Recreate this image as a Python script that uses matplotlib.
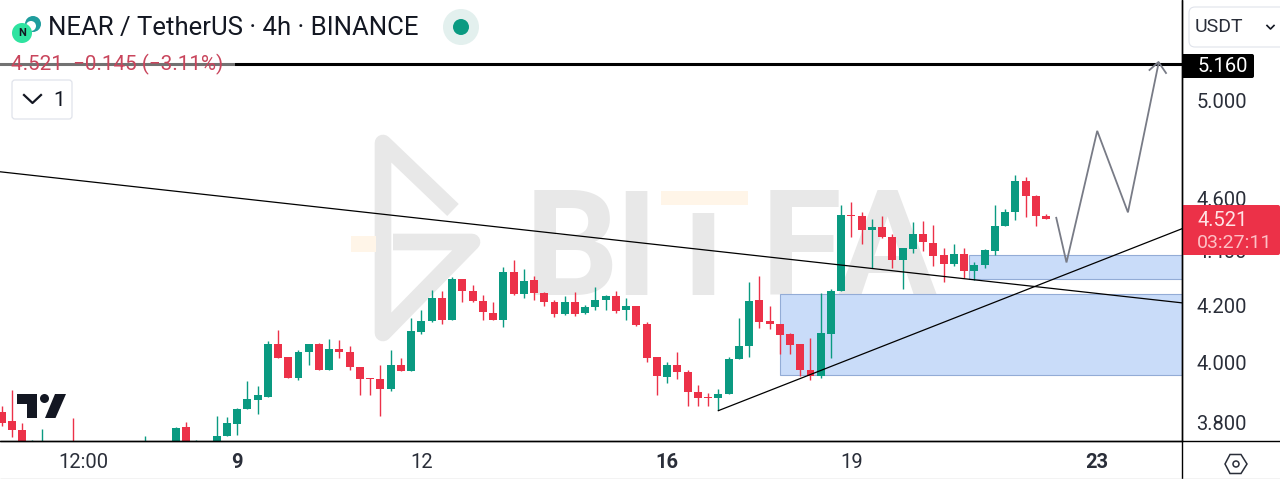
import matplotlib
matplotlib.use('Agg')
import matplotlib.pyplot as plt
import numpy as np
from matplotlib.patches import Rectangle, Polygon, Circle, FancyBboxPatch
from matplotlib.lines import Line2D
from matplotlib.ticker import NullLocator, FixedLocator, FixedFormatter
from matplotlib.transforms import Affine2D

plt.rcParams['font.family'] = ['Roboto', 'DejaVu Sans']

na = np.nan
opens = [3.835, 3.805, 3.778, 3.707, 3.714, na, na, 3.730, na, na,
         na, na, na, na, 3.714, na, na, 3.714, 3.787, 3.707,
         na, 3.720, 3.757, 3.798, 3.844, 3.876, 3.886, 4.065, 4.019, 3.947,
         4.036, 4.063, 3.977, 4.046, 4.036, 3.987, 3.947, 3.944, 3.910, 3.994,
         3.971, 4.105, 4.144, 4.226, 4.148, 4.296, 4.251, 4.217, 4.173, 4.150,
         4.322, 4.242, 4.293, 4.245, 4.213, 4.170, 4.212, 4.172, 4.193, 4.219,
         4.235, 4.183, 4.199, 4.133, 4.021, 3.951, 3.993, 3.967, 3.903, 3.885,
         3.882, 3.896, 4.014, 4.057, 4.220, 4.144, 4.136, 4.098, 4.063, 3.975,
         3.955, 4.100, 4.254, 4.537, 4.532, 4.481, 4.492, 4.453, 4.367, 4.408,
         4.465, 4.430, 4.386, 4.352, 4.388, 4.327, 4.348, 4.401, 4.496, 4.547,
         4.671, 4.609, 4.533]
closes = [3.800, 3.778, 3.730, 3.727, 3.740, na, na, 3.707, na, na,
          na, na, na, na, 3.733, na, na, 3.784, 3.714, 3.727,
          na, 3.759, 3.800, 3.844, 3.879, 3.890, 4.066, 4.015, 3.947, 4.036,
          4.063, 3.977, 4.046, 4.036, 3.987, 3.944, 3.944, 3.910, 3.994, 3.971,
          4.108, 4.144, 4.226, 4.147, 4.296, 4.251, 4.217, 4.176, 4.150, 4.322,
          4.242, 4.290, 4.245, 4.213, 4.170, 4.211, 4.171, 4.194, 4.219, 4.234,
          4.182, 4.198, 4.131, 4.017, 3.954, 3.991, 3.967, 3.901, 3.882, 3.882,
          3.896, 4.014, 4.059, 4.217, 4.142, 4.136, 4.095, 4.062, 3.974, 3.955,
          4.101, 4.254, 4.536, 4.532, 4.481, 4.491, 4.453, 4.365, 4.411, 4.465,
          4.432, 4.382, 4.352, 4.389, 4.327, 4.348, 4.404, 4.496, 4.547, 4.669,
          4.609, 4.532, 4.521]
highs = [3.854, 3.907, 3.800, 3.746, 3.782, na, na, 3.817, na, na,
         na, na, na, na, 3.759, na, na, 3.786, 3.802, 3.746,
         na, 3.824, 3.818, 3.849, 3.938, 3.923, 4.074, 4.113, 4.019, 4.043,
         4.065, 4.068, 4.083, 4.079, 4.059, 3.987, 3.947, 3.991, 4.045, 4.017,
         4.156, 4.183, 4.257, 4.251, 4.304, 4.296, 4.275, 4.236, 4.211, 4.340,
         4.367, 4.333, 4.306, 4.247, 4.220, 4.235, 4.247, 4.203, 4.265, 4.238,
         4.254, 4.226, 4.200, 4.142, 4.021, 4.002, 4.036, 3.975, 3.926, 3.899,
         3.912, 4.020, 4.156, 4.284, 4.308, 4.197, 4.136, 4.102, 4.065, 4.086,
         4.245, 4.259, 4.577, 4.587, 4.549, 4.522, 4.532, 4.462, 4.411, 4.509,
         4.515, 4.500, 4.411, 4.426, 4.411, 4.357, 4.408, 4.577, 4.560, 4.696,
         4.687, 4.616, 4.541]
lows = [3.791, 3.755, 3.714, 3.694, 3.697, na, na, 3.694, na, na,
        na, na, na, na, 3.697, na, na, 3.707, 3.697, 3.697,
        na, 3.707, 3.757, 3.760, 3.844, 3.830, 3.886, 4.015, 3.947, 3.941,
        3.994, 3.977, 3.977, 4.015, 3.975, 3.890, 3.890, 3.822, 3.904, 3.971,
        3.971, 4.098, 4.140, 4.133, 4.148, 4.211, 4.211, 4.147, 4.147, 4.123,
        4.237, 4.226, 4.220, 4.200, 4.158, 4.166, 4.162, 4.171, 4.184, 4.185,
        4.172, 4.150, 4.127, 4.002, 3.893, 3.931, 3.946, 3.854, 3.854, 3.854,
        3.841, 3.896, 4.014, 4.020, 4.119, 4.117, 4.030, 4.030, 3.955, 3.940,
        3.947, 4.017, 4.254, 4.453, 4.427, 4.337, 4.449, 4.337, 4.260, 4.394,
        4.401, 4.345, 4.284, 4.343, 4.300, 4.294, 4.337, 4.386, 4.493, 4.519,
        4.530, 4.493, 4.522]

price_ticks = [3.8, 4.0, 4.2, 4.4, 4.6, 5.0]
time_ticks = [8, 23, 41, 65, 83, 107]
time_labels = ['12:00', '9', '12', '16', '19', '23']
bold_labels = ['9', '16', '23']

target = 5.160
trend1_x = [-0.15, 115.28]
trend1_y = [4.707, 4.2095]
trend2_x = [70, 115.28]
trend2_y = [3.840, 4.484]
path_x = [103, 104, 107, 110, 113]
path_y = [4.526, 4.357, 4.874, 4.547, 5.165]
zone1 = [76, 115.28, 3.959, 4.242]
zone2 = [94.5, 115.28, 4.296, 4.386]

green = '#0a9a81'
red = '#ec3148'
dark = '#131722'
wm = '#e8e8e8'

fig = plt.figure(figsize=(12.8, 4.79), dpi=100)
ax = fig.add_axes([0, 38 / 479, 1182 / 1280, 441 / 479])
ax.set_yscale('log')
ax.set_axisbelow(True)

# pixel positions from the top left, for everything that is not chart data
T = Affine2D().scale(1, -1).translate(0, 479)


def rect(x0, y0, x1, y1, color, z=0.5, alpha=None):
    ax.add_patch(Rectangle((x0, y0), x1 - x0, y1 - y0, transform=T, fc=color, ec='none',
                           zorder=z, clip_on=False, alpha=alpha))


def pline(xs, ys, color, lw, z=1.0):
    fig.add_artist(Line2D(xs, ys, transform=T, color=color, lw=lw, zorder=z,
                          solid_capstyle='butt', solid_joinstyle='miter'))


# watermark
logo_x = [453, 383, 383, 472, 393]
logo_y = [210, 143, 333, 242, 242]
ax.plot(logo_x, logo_y, transform=T, color=wm, lw=12, solid_joinstyle='round',
        solid_capstyle='butt', zorder=0.3, clip_on=False)
for ch, cx in zip(['B', 'I', 'T', 'F', 'A'], [572, 636, 704, 801, 887]):
    ax.text(cx, 295, ch, transform=T, fontsize=106, color=wm, ha='center', va='baseline',
            zorder=0.3, family='Roboto', fontweight='bold')
rect(650, 185, 760, 213, 'white', z=0.4)
rect(661, 191, 748, 205, '#fff5e8', z=0.45)
rect(351, 236, 376, 252, '#fff5e8', z=0.45)

# zones
for z0 in [zone1, zone2]:
    ax.add_patch(Rectangle((z0[0], z0[2]), z0[1] - z0[0], z0[3] - z0[2], fc='#c9dcf9',
                           ec='#93acd6', lw=0.8, zorder=1))

# candles
for i in range(len(opens)):
    if np.isnan(opens[i]):
        continue
    c = green if closes[i] >= opens[i] else red
    ax.vlines(i, lows[i], highs[i], color=c, lw=1.0, zorder=2)
    ax.bar(i, abs(closes[i] - opens[i]), bottom=min(opens[i], closes[i]), width=0.78,
           color=c, zorder=2.1)

# drawings
ax.plot(trend1_x, trend1_y, color='black', lw=0.9, zorder=3)
ax.plot(trend2_x, trend2_y, color='black', lw=0.9, zorder=3)
ax.axhline(target, color='black', lw=2.2, zorder=3)
ax.plot(path_x, path_y, color='#787b86', lw=1.3, zorder=3, solid_joinstyle='miter')
ax.plot([1149.5, 1158.5, 1166], [70, 62, 73], transform=T, color='#787b86', lw=1.3, zorder=3)

ax.set_xlim(-0.15, 115.28)
ax.set_ylim(3.742, 5.449)

ax.yaxis.tick_right()
ax.yaxis.set_major_locator(FixedLocator(price_ticks))
ax.yaxis.set_major_formatter(FixedFormatter(['%.3f' % p for p in price_ticks]))
ax.yaxis.set_minor_locator(NullLocator())
ax.tick_params(axis='y', length=0, pad=10.5, labelsize=14.5, labelcolor='#2a2e39')
ax.set_xticks(time_ticks)
ax.set_xticklabels(time_labels)
ax.tick_params(axis='x', length=0, pad=9, labelsize=14.5, labelcolor='#2a2e39')
for lab in ax.get_xticklabels():
    if lab.get_text() in bold_labels:
        lab.set_fontweight('bold')
for s in ['top', 'left']:
    ax.spines[s].set_visible(False)
for s in ['right', 'bottom']:
    ax.spines[s].set_linewidth(1.0)
pline([1182, 1182], [0, 479], 'black', 1.0)
pline([0, 1280], [441, 441], 'black', 1.0)
pline([0, 1280], [478.5, 478.5], '#c4c4c4', 1.0)

# price labels on the scale
ax.add_patch(FancyBboxPatch((1184, 56), 68, 20, boxstyle='round,pad=2,rounding_size=2', transform=T,
                            fc='black', ec='none', zorder=6, clip_on=False))
rect(1182, 54, 1190, 78, 'black', z=6)
ax.text(1198, 66.5, '5.160', transform=T, color='white', fontsize=14.5, va='center', zorder=7)
ax.add_patch(FancyBboxPatch((1184, 207), 94, 46, boxstyle='round,pad=2,rounding_size=2', transform=T,
                            fc=red, ec='none', zorder=6, clip_on=False))
rect(1182, 205, 1190, 255, red, z=6)
ax.text(1197, 221, '4.521', transform=T, color='#ffe3e5', fontsize=14.5, va='center', zorder=7)
ax.text(1197, 243, '03:27:11', transform=T, color='#fdc0c5', fontsize=14, va='center', zorder=7)

# currency button
ax.add_patch(FancyBboxPatch((1191, 9), 100, 36, boxstyle='round,pad=2,rounding_size=6', transform=T,
                            fc='white', ec='#e0e3eb', lw=0.8, zorder=6, clip_on=False))
ax.text(1195, 27.5, 'USDT', transform=T, color='#2a2e39', fontsize=14, va='center', zorder=7)
ax.plot([1267, 1270.5, 1274], [25.5, 29, 25.5], transform=T, color=dark, lw=1.2, zorder=7, clip_on=False)

# settings hexagon
ax.add_patch(Polygon([(1225, 464), (1230, 454.5), (1241, 454.5), (1247, 464), (1241, 473.5), (1230, 473.5)],
                     transform=T, fc='white', ec='#2a2e39', lw=1.1, zorder=7, clip_on=False))
ax.add_patch(Circle((1236, 464), 3, transform=T, fc='white', ec='#2a2e39', lw=1.1, zorder=8, clip_on=False))

# header
ax.add_patch(Circle((33, 24), 8, transform=T, fc='#1f9d9d', ec='none', zorder=6))
ax.add_patch(Circle((31, 26), 5, transform=T, fc='white', ec='none', zorder=6.1))
ax.add_patch(Circle((22, 33), 10, transform=T, fc='#2fe3a0', ec='none', zorder=6.2))
ax.text(22, 33.5, 'N', transform=T, color=dark, fontsize=8, fontweight='bold', ha='center', va='center', zorder=6.3)
ax.text(48, 28.5, 'NEAR / TetherUS · 4h · BINANCE', transform=T, color=dark, fontsize=18.5, va='center', zorder=7)
ax.add_patch(Circle((461, 27), 18, transform=T, fc='#e3f0ee', ec='none', zorder=6))
ax.add_patch(Circle((461, 27), 8, transform=T, fc=green, ec='none', zorder=6.1))

# legend row sits over the target line
rect(0, 55, 235, 73, 'white', z=4, alpha=0.45)
ax.text(11, 64, '4.521  \u22120.145 (\u22123.11%)', transform=T, color='#c9455c', fontsize=14.9, va='center', zorder=7)

ax.add_patch(FancyBboxPatch((14, 82), 56, 35, boxstyle='round,pad=2,rounding_size=3', transform=T,
                            fc='white', ec='#e0e3eb', lw=0.9, zorder=6, clip_on=False))
ax.plot([24, 32.5, 41], [95, 103, 95], transform=T, color=dark, lw=1.6, zorder=7)
ax.text(53, 100, '1', transform=T, color=dark, fontsize=15, va='center', zorder=7)

# TradingView mark
ax.add_patch(Polygon([(17, 394), (37, 394), (37, 418), (27, 418), (27, 404), (17, 404)], transform=T,
                     fc=dark, ec='none', zorder=5))
ax.add_patch(Circle((44.5, 398.5), 4.5, transform=T, fc=dark, ec='none', zorder=5))
ax.add_patch(Polygon([(55, 394), (66, 394), (55.5, 418), (45, 418)], transform=T, fc=dark, ec='none', zorder=5))

fig.savefig('out.png', dpi=100)
